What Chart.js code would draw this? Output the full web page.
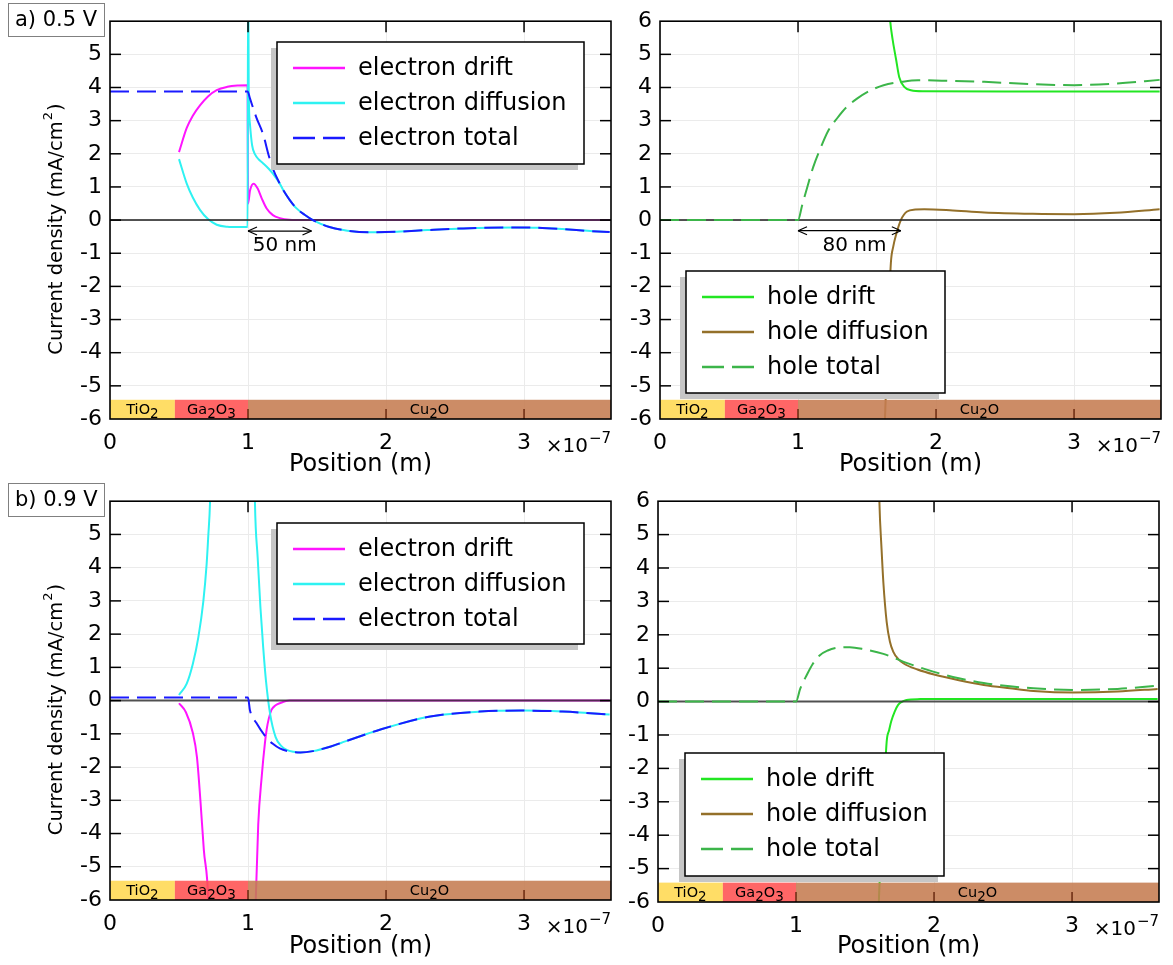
<!DOCTYPE html>
<html>
<head>
<meta charset="utf-8">
<script src="https://cdn.jsdelivr.net/npm/chart.js@4.4.1/dist/chart.umd.min.js"></script>
<style>
  html, body { margin: 0; padding: 0; background: #fff; }
  #wrap { position: relative; width: 1173px; height: 965px; overflow: hidden; }
  canvas { position: absolute; }
</style>
</head>
<body>
<div id="wrap">
  <canvas id="pa" width="620" height="480" style="left:0;top:0"></canvas>
  <canvas id="pb" width="553" height="480" style="left:620px;top:0"></canvas>
  <canvas id="pc" width="620" height="485" style="left:0;top:480px"></canvas>
  <canvas id="pd" width="553" height="485" style="left:620px;top:480px"></canvas>
</div>
<script>
// ── axes ────────────────────────────────────────────────────────────────
const X_MAX = 3.63;                       // ×1e-7 m
const xTicks = [0, 1, 2, 3];
const yTicks = [-6, -5, -4, -3, -2, -1, 0, 1, 2, 3, 4, 5, 6];

// ── device stack (x in 1e-7 m) ─────────────────────────────────────────
const layerNames = ['TiO2', 'Ga2O3', 'Cu2O'];
const layerFrom  = [0, 0.47, 1.0];
const layerTo    = [0.47, 1.0, X_MAX];
const layerTop   = -5.42;

// ── a) 0.5 V, electrons ────────────────────────────────────────────────
const aDriftX = [0.5, 0.556, 0.6, 0.652, 0.71, 0.773, 0.85, 0.93, 0.997, 1.0, 1.015, 1.04, 1.07, 1.1, 1.135, 1.18, 1.23, 1.3, 1.4, 3.62];
const aDriftY = [2.05, 2.78, 3.15, 3.46, 3.73, 3.92, 4.02, 4.06, 4.07, 0.5, 0.9, 1.1, 0.95, 0.65, 0.35, 0.15, 0.06, 0.01, 0, 0];
const aDiffX  = [0.5, 0.556, 0.6, 0.652, 0.71, 0.773, 0.85, 0.93, 0.997, 1.0, 1.002, 1.005, 1.014, 1.03, 1.05, 1.08, 1.11, 1.15, 1.18, 1.23, 1.256, 1.3, 1.35, 1.41, 1.47, 1.59, 1.72, 1.88, 2.08, 2.3, 2.56, 2.92, 3.1, 3.28, 3.48, 3.62];
const aDiffY  = [1.84, 1.1, 0.68, 0.31, 0.03, -0.14, -0.2, -0.21, -0.21, 7, 7, 4.0, 2.9, 2.25, 1.99, 1.82, 1.71, 1.55, 1.4, 1.1, 0.9, 0.62, 0.36, 0.16, 0, -0.21, -0.32, -0.37, -0.35, -0.3, -0.25, -0.22, -0.23, -0.27, -0.33, -0.36];
const aTotX   = [0, 0.5, 0.997, 1.014, 1.06, 1.11, 1.15, 1.18, 1.23, 1.256, 1.3, 1.35, 1.41, 1.47, 1.59, 1.72, 1.88, 2.08, 2.3, 2.56, 2.92, 3.1, 3.28, 3.48, 3.62];
const aTotY   = [3.88, 3.88, 3.88, 3.67, 3.1, 2.58, 1.95, 1.55, 1.1, 0.9, 0.62, 0.36, 0.16, 0, -0.21, -0.32, -0.37, -0.35, -0.3, -0.25, -0.22, -0.23, -0.27, -0.33, -0.36];

// ── a) 0.5 V, holes ────────────────────────────────────────────────────
const bDriftX = [1.0, 1.62, 1.668, 1.685, 1.71, 1.733, 1.77, 1.818, 1.91, 2.5, 3.62];
const bDriftY = [9, 9, 6, 5.46, 4.86, 4.32, 4.02, 3.92, 3.89, 3.88, 3.88];
const bDiffX  = [1.0, 1.6, 1.63, 1.653, 1.673, 1.69, 1.71, 1.745, 1.79, 1.85, 1.915, 2.1, 2.35, 2.7, 3.0, 3.3, 3.62];
const bDiffY  = [-9, -9, -6, -3.26, -1.28, -0.8, -0.45, 0, 0.26, 0.32, 0.33, 0.3, 0.23, 0.19, 0.18, 0.22, 0.33];
const bTotX   = [0, 1.0, 1.03, 1.067, 1.11, 1.164, 1.22, 1.285, 1.35, 1.43, 1.52, 1.62, 1.75, 1.87, 2.1, 2.35, 2.7, 3.0, 3.3, 3.62];
const bTotY   = [0, 0, 0.45, 0.99, 1.6, 2.18, 2.7, 3.08, 3.4, 3.67, 3.9, 4.07, 4.17, 4.22, 4.2, 4.17, 4.1, 4.07, 4.12, 4.23];

// ── b) 0.9 V, electrons ────────────────────────────────────────────────
const cDriftX = [0.5, 0.55, 0.6, 0.63, 0.655, 0.68, 0.712, 0.73, 1.04, 1.056, 1.074, 1.1, 1.123, 1.135, 1.15, 1.17, 1.2, 1.23, 1.3, 3.62];
const cDriftY = [-0.08, -0.35, -0.97, -1.7, -3.0, -4.5, -6, -9, -9, -6, -3.73, -2.25, -1.26, -0.87, -0.55, -0.28, -0.14, -0.08, 0, 0];
const cDiffX  = [0.5, 0.556, 0.6, 0.64, 0.676, 0.7, 0.712, 0.725, 0.74, 1.04, 1.05, 1.07, 1.09, 1.11, 1.13, 1.16, 1.2, 1.24, 1.28, 1.33, 1.38, 1.47, 1.6, 1.71, 1.96, 2.32, 2.68, 3.0, 3.28, 3.62];
const cDiffY  = [0.17, 0.51, 1.1, 1.9, 2.98, 4.1, 4.95, 6, 9, 9, 6, 4.3, 2.8, 1.6, 0.6, -0.4, -1.1, -1.36, -1.48, -1.54, -1.56, -1.52, -1.38, -1.22, -0.87, -0.48, -0.33, -0.3, -0.33, -0.42];
const cTotX   = [0, 1.0, 1.014, 1.06, 1.13, 1.18, 1.23, 1.3, 1.38, 1.47, 1.6, 1.71, 1.96, 2.32, 2.68, 3.0, 3.28, 3.62];
const cTotY   = [0.09, 0.09, -0.29, -0.67, -1.1, -1.3, -1.44, -1.53, -1.56, -1.52, -1.38, -1.22, -0.87, -0.48, -0.33, -0.3, -0.33, -0.42];

// ── b) 0.9 V, holes ────────────────────────────────────────────────────
const dDriftX = [1.0, 1.58, 1.6, 1.623, 1.64, 1.657, 1.675, 1.69, 1.715, 1.74, 1.77, 1.8, 1.9, 2.0, 3.62];
const dDriftY = [-9, -9, -6, -4, -2.5, -1.19, -0.85, -0.59, -0.3, -0.1, 0.0, 0.05, 0.075, 0.08, 0.08];
const dDiffX  = [1.0, 1.59, 1.604, 1.62, 1.633, 1.657, 1.68, 1.705, 1.74, 1.78, 1.88, 2.0, 2.18, 2.36, 2.55, 2.72, 3.01, 3.33, 3.62];
const dDiffY  = [9, 9, 6, 4.55, 3.56, 2.38, 1.8, 1.49, 1.28, 1.14, 0.96, 0.81, 0.64, 0.5, 0.4, 0.32, 0.27, 0.3, 0.38];
const dTotX   = [0, 1.0, 1.03, 1.077, 1.12, 1.173, 1.23, 1.295, 1.39, 1.5, 1.633, 1.78, 2.0, 2.18, 2.36, 2.55, 2.72, 3.01, 3.33, 3.6];
const dTotY   = [0, 0, 0.38, 0.79, 1.12, 1.39, 1.53, 1.61, 1.63, 1.56, 1.43, 1.19, 0.89, 0.7, 0.56, 0.46, 0.4, 0.35, 0.38, 0.47];

// depletion width markers: [from, to, at y, label]
const aSpan = [1.0, 1.46, -0.33, '50 nm'];
const bSpan = [1.0, 1.745, -0.32, '80 nm'];

// ── styles ─────────────────────────────────────────────────────────────
const FONT = 'DejaVu Sans';
const GRID = '#ebebeb';
const LAYER_COLORS = ['#ffd851', '#ff5151', '#c57c51'];   // drawn at 0.88 alpha
const C_EDRIFT = '#ff14ff', C_EDIFF = '#2ef2f2', C_ETOT = '#1a1aff';
const C_HDRIFT = '#22e622', C_HDIFF = '#94702a', C_HTOT = '#3cb54a';
const DASH = [19, 8];

Chart.defaults.font.family = FONT;

const pts = (xs, ys) => xs.map((x, i) => ({ x, y: ys[i] }));
const f = px => px + 'px "' + FONT + '"';

function line(ctx, x0, y0, x1, y1) {
  ctx.beginPath(); ctx.moveTo(x0, y0); ctx.lineTo(x1, y1); ctx.stroke();
}

// text with lowered digits, e.g. Ga2O3
function drawChem(ctx, text, cx, base) {
  const runs = text.match(/\d+|\D+/g);
  let w = 0;
  runs.forEach(r => { ctx.font = /\d/.test(r) ? f(13.5) : f(14.5); w += ctx.measureText(r).width; });
  let x = cx - w / 2;
  ctx.textAlign = 'left'; ctx.textBaseline = 'alphabetic';
  runs.forEach(r => {
    const sub = /\d/.test(r);
    ctx.font = sub ? f(13.5) : f(14.5);
    ctx.fillText(r, x, base + (sub ? 4 : 0));
    x += ctx.measureText(r).width;
  });
}

const panelDeco = {
  id: 'panelDeco',
  afterDatasetsDraw(chart, args, o) {
    const { ctx, chartArea: a, scales: { x, y } } = chart;
    ctx.save();
    // layer bar at the bottom
    const yt = y.getPixelForValue(layerTop);
    ctx.globalAlpha = 0.88;
    layerNames.forEach((n, i) => {
      const x0 = x.getPixelForValue(layerFrom[i]), x1 = x.getPixelForValue(layerTo[i]);
      ctx.fillStyle = LAYER_COLORS[i];
      ctx.fillRect(x0, yt, x1 - x0, a.bottom - yt);
    });
    ctx.globalAlpha = 1;
    ctx.fillStyle = '#000';
    layerNames.forEach((n, i) => {
      const cx = (x.getPixelForValue(layerFrom[i]) + x.getPixelForValue(layerTo[i])) / 2;
      drawChem(ctx, n, cx, (yt + a.bottom) / 2 + 4.5);
    });

    // inward ticks
    ctx.lineWidth = 1.5; ctx.strokeStyle = '#000';
    yTicks.forEach(v => {
      if (v <= y.min || v >= y.max) return;
      const py = y.getPixelForValue(v);
      line(ctx, a.left, py, a.left + 11, py);
      line(ctx, a.right - 11, py, a.right, py);
    });
    xTicks.forEach(v => {
      if (v <= x.min || v >= x.max) return;
      line(ctx, x.getPixelForValue(v), a.top, x.getPixelForValue(v), a.top + 11);
    });
    ctx.strokeStyle = '#6a2a10';
    xTicks.forEach(v => {
      if (v <= x.min || v >= x.max) return;
      line(ctx, x.getPixelForValue(v), a.bottom - 10, x.getPixelForValue(v), a.bottom);
    });

    // frame
    ctx.strokeStyle = '#000'; ctx.lineWidth = 1.6;
    ctx.strokeRect(a.left, a.top, a.width, a.height);
    ctx.restore();
  },

  afterDraw(chart, args, o) {
    const { ctx, chartArea: a, scales: { x, y } } = chart;
    ctx.save();

    // span arrow
    if (o.span) {
      const [f0, t0, v, txt] = o.span;
      const x0 = x.getPixelForValue(f0), x1 = x.getPixelForValue(t0), py = y.getPixelForValue(v);
      ctx.strokeStyle = '#000'; ctx.lineWidth = 1.2;
      line(ctx, x0, py, x1, py);
      line(ctx, x0, py, x0 + 9, py - 4); line(ctx, x0, py, x0 + 9, py + 4);
      line(ctx, x1, py, x1 - 9, py - 4); line(ctx, x1, py, x1 - 9, py + 4);
      ctx.fillStyle = '#000'; ctx.font = f(20);
      ctx.textAlign = 'center'; ctx.textBaseline = 'middle';
      ctx.fillText(txt, (x0 + x1) / 2 + 5, py + 15);
    }

    // legend with drop shadow
    const L = o.legend;
    ctx.fillStyle = '#c6c6c6';
    ctx.fillRect(L.x - 6, L.y + 6, L.w, L.h);
    ctx.fillStyle = '#fff';
    ctx.fillRect(L.x, L.y, L.w, L.h);
    ctx.strokeStyle = '#000'; ctx.lineWidth = 1.5;
    ctx.strokeRect(L.x, L.y, L.w, L.h);
    chart.data.datasets.filter(d => d.label).forEach((d, i) => {
      const yy = L.y + 26 + i * 35;
      ctx.strokeStyle = d.borderColor; ctx.lineWidth = 2.5;
      ctx.setLineDash(d.borderDash ? [22, 8] : []);
      line(ctx, L.x + 16, yy, L.x + 68, yy);
      ctx.setLineDash([]);
      ctx.fillStyle = '#000'; ctx.font = f(24);
      ctx.textAlign = 'left'; ctx.textBaseline = 'middle';
      ctx.fillText(d.label, L.x + 81, yy + 1);
    });

    // x multiplier
    ctx.fillStyle = '#000'; ctx.textAlign = 'right'; ctx.textBaseline = 'alphabetic';
    ctx.font = f(15);
    const sup = '\u22127';
    ctx.fillText(sup, a.right, a.bottom + 24);
    const sw = ctx.measureText(sup).width;
    ctx.font = f(20);
    ctx.fillText('\u00d710', a.right - sw - 1, a.bottom + 33);

    // y title with a real superscript
    if (o.yTitle) {
      ctx.save();
      ctx.translate(57, (a.top + a.bottom) / 2 + 9);
      ctx.rotate(-Math.PI / 2);
      ctx.textAlign = 'left'; ctx.textBaseline = 'middle';
      const p1 = 'Current density (mA/cm', p2 = '2', p3 = ')';
      ctx.font = f(19.5); const w1 = ctx.measureText(p1).width, w3 = ctx.measureText(p3).width;
      ctx.font = f(13); const w2 = ctx.measureText(p2).width;
      let sx = -(w1 + w2 + w3 + 2) / 2;
      ctx.font = f(19.5); ctx.fillText(p1, sx, 0); sx += w1 + 1;
      ctx.font = f(13); ctx.fillText(p2, sx, -8); sx += w2 + 1;
      ctx.font = f(19.5); ctx.fillText(p3, sx, 0);
      ctx.restore();
    }

    // panel tag
    if (o.tag) {
      ctx.fillStyle = '#fff'; ctx.fillRect(8, 3, 96, 33);
      ctx.strokeStyle = '#808080'; ctx.lineWidth = 1;
      ctx.strokeRect(8.5, 3.5, 96, 33);
      ctx.fillStyle = '#000'; ctx.font = f(21);
      ctx.textAlign = 'left'; ctx.textBaseline = 'middle';
      ctx.fillText(o.tag, 15, 20.5);
    }
    ctx.restore();
  }
};

function curve(label, xs, ys, color, dashed, order) {
  return {
    label, data: pts(xs, ys), borderColor: color, borderWidth: 2,
    borderDash: dashed ? DASH : undefined, pointRadius: 0, fill: false,
    cubicInterpolationMode: 'monotone', order
  };
}

function zeroLine() {
  return { data: pts([0, X_MAX], [0, 0]), borderColor: 'rgba(45,45,45,0.82)', borderWidth: 2, pointRadius: 0, order: 1 };
}

function buildPanel(id, p) {
  new Chart(document.getElementById(id), {
    type: 'line',
    data: { datasets: p.datasets },
    options: {
      responsive: false, animation: false, events: [],
      layout: { padding: { left: 0, top: p.padTop, right: p.padRight, bottom: 0 } },
      plugins: {
        legend: { display: false }, tooltip: { enabled: false },
        panelDeco: { legend: p.legend, span: p.span, tag: p.tag, yTitle: p.yTitle }
      },
      scales: {
        x: {
          type: 'linear', min: 0, max: X_MAX,
          afterBuildTicks: s => { s.ticks = xTicks.map(v => ({ value: v })); },
          afterFit: s => { s.height = p.xAxisH; },
          grid: { color: GRID, drawTicks: false },
          border: { display: false },
          ticks: { color: '#000', font: { size: 22 }, padding: 11, maxRotation: 0 },
          title: { display: true, text: 'Position (m)', color: '#000', font: { size: 24 }, padding: { top: 0, bottom: p.xTitlePad } }
        },
        y: {
          type: 'linear', min: -6, max: 6,
          afterBuildTicks: s => { s.ticks = yTicks.map(v => ({ value: v })); },
          afterFit: s => { s.width = p.yAxisW; },
          grid: { color: GRID, drawTicks: false },
          border: { display: false },
          ticks: { color: '#000', font: { size: 22 }, padding: 8 }
        }
      }
    },
    plugins: [panelDeco]
  });
}

buildPanel('pa', {
  padTop: 15, padRight: 9, yAxisW: 110, xAxisH: 61, xTitlePad: 1, yTitle: true, tag: 'a) 0.5 V',
  legend: { x: 277, y: 42, w: 307, h: 122 }, span: aSpan,
  datasets: [
    curve('electron drift', aDriftX, aDriftY, C_EDRIFT, false, 3),
    curve('electron diffusion', aDiffX, aDiffY, C_EDIFF, false, 2),
    curve('electron total', aTotX, aTotY, C_ETOT, true, 0),
    zeroLine()
  ]
});

buildPanel('pb', {
  padTop: 15, padRight: 12, yAxisW: 40, xAxisH: 61, xTitlePad: 1,
  legend: { x: 66, y: 271, w: 259, h: 122 }, span: bSpan,
  datasets: [
    curve('hole drift', bDriftX, bDriftY, C_HDRIFT, false, 3),
    curve('hole diffusion', bDiffX, bDiffY, C_HDIFF, false, 2),
    curve('hole total', bTotX, bTotY, C_HTOT, true, 0),
    zeroLine()
  ]
});

buildPanel('pc', {
  padTop: 15, padRight: 9, yAxisW: 110, xAxisH: 65, xTitlePad: 4, yTitle: true, tag: 'b) 0.9 V',
  legend: { x: 277, y: 43, w: 307, h: 121 },
  datasets: [
    curve('electron drift', cDriftX, cDriftY, C_EDRIFT, false, 3),
    curve('electron diffusion', cDiffX, cDiffY, C_EDIFF, false, 2),
    curve('electron total', cTotX, cTotY, C_ETOT, true, 0),
    zeroLine()
  ]
});

buildPanel('pd', {
  padTop: 18, padRight: 14, yAxisW: 38, xAxisH: 63, xTitlePad: 4,
  legend: { x: 65, y: 273, w: 259, h: 123 },
  datasets: [
    curve('hole drift', dDriftX, dDriftY, C_HDRIFT, false, 3),
    curve('hole diffusion', dDiffX, dDiffY, C_HDIFF, false, 2),
    curve('hole total', dTotX, dTotY, C_HTOT, true, 0),
    zeroLine()
  ]
});
</script>
</body>
</html>
